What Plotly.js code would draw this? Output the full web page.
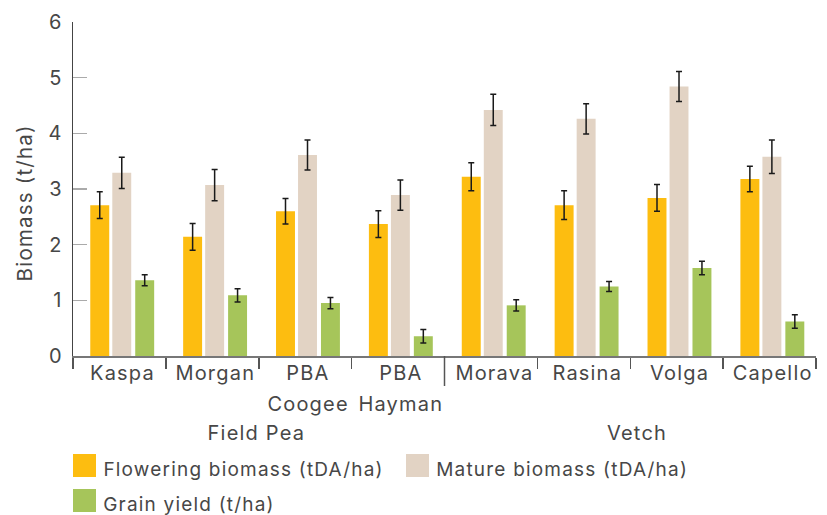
<!DOCTYPE html>
<html><head><meta charset="utf-8">
<script src="https://cdn.plot.ly/plotly-3.0.1.min.js"></script>
<style>html,body{margin:0;padding:0;background:#fff}#chart{width:827px;height:515px}
#chart .annotation-text{letter-spacing:1.2px}</style>
</head><body><div id="chart"></div>
<script>
// ---- data ----
const categories = ["Kaspa", "Morgan", "PBA Coogee", "PBA Hayman", "Morava", "Rasina", "Volga", "Capello"];
const labelLine1 = ["Kaspa", "Morgan", "PBA", "PBA", "Morava", "Rasina", "Volga", "Capello"];
const labelLine2 = ["", "", "Coogee", "Hayman", "", "", "", ""];
const groupNames = ["Field Pea", "Vetch"];
const groupMembers = [["Kaspa", "Morgan", "PBA Coogee", "PBA Hayman"], ["Morava", "Rasina", "Volga", "Capello"]];
const seriesNames = ["Flowering biomass (tDA/ha)", "Mature biomass (tDA/ha)", "Grain yield (t/ha)"];
const flowering = [2.71, 2.14, 2.60, 2.37, 3.22, 2.71, 2.84, 3.18];
const floweringErr = [0.24, 0.24, 0.23, 0.24, 0.25, 0.26, 0.24, 0.23];
const mature = [3.29, 3.07, 3.61, 2.89, 4.42, 4.26, 4.84, 3.58];
const matureErr = [0.28, 0.28, 0.27, 0.27, 0.28, 0.27, 0.27, 0.30];
const grain = [1.36, 1.09, 0.95, 0.355, 0.91, 1.25, 1.58, 0.62];
const grainErr = [0.10, 0.12, 0.10, 0.12, 0.10, 0.09, 0.12, 0.12];
const yTickVals = [0, 1, 2, 3, 4, 5, 6];

// ---- styling ----
const W = 827, H = 515, M = {l: 73, r: 11, t: 22, b: 159};
const pw = W - M.l - M.r, ph = H - M.t - M.b;
const pxX = px => (px - M.l) / pw;
const pxY = py => (H - M.b - py) / ph;
const FONT = 'Inter, sans-serif';
const TXT = '#474747';
const SPACING = 1.2;
const colors = ['#FDBD10', '#E2D3C4', '#A6C55A'];
const offsets = [-0.314, -0.077, 0.170];
const barW = 0.204;

function barTrace(i, y, err) {
  return {
    type: 'bar', name: seriesNames[i], x: categories, y: y,
    width: barW, offset: offsets[i],
    marker: {color: colors[i], line: {width: 0}},
    error_y: {type: 'data', array: err, visible: true, color: '#1a1a1a', thickness: 1.5, width: 3},
    showlegend: false, hoverinfo: 'skip'
  };
}
const data = [barTrace(0, flowering, floweringErr), barTrace(1, mature, matureErr), barTrace(2, grain, grainErr)];

const annotations = [];
const shapes = [];
categories.forEach((c, i) => {
  annotations.push({xref: 'x', yref: 'paper', x: c, xshift: 3.3, y: pxY(373), yanchor: 'middle', xanchor: 'center',
    text: labelLine1[i], showarrow: false, font: {family: FONT, size: 20, color: TXT}});
  if (labelLine2[i]) annotations.push({xref: 'x', yref: 'paper', x: c, xshift: 3.3, y: pxY(404), yanchor: 'middle', xanchor: 'center',
    text: labelLine2[i], showarrow: false, font: {family: FONT, size: 20, color: TXT}});
});
groupNames.forEach((g, gi) => {
  const mem = groupMembers[gi];
  const mid = (categories.indexOf(mem[0]) + categories.indexOf(mem[mem.length - 1])) / 2;
  annotations.push({xref: 'x', yref: 'paper', x: mid, xshift: gi === 0 ? -2 : 6.5, y: pxY(433), yanchor: 'middle', xanchor: 'center',
    text: g, showarrow: false, font: {family: FONT, size: 20, color: TXT}});
});
// group separator
shapes.push({type: 'line', xref: 'x', yref: 'paper', x0: 3.5, x1: 3.5, y0: 0, y1: pxY(386), line: {color: '#555', width: 1.5}});
// y title
annotations.push({xref: 'paper', yref: 'paper', x: pxX(24), y: pxY(203), textangle: -90, xanchor: 'center', yanchor: 'middle',
  text: 'Biomass (t/ha)', showarrow: false, font: {family: FONT, size: 20.5, color: TXT}});
// legend (manual)
const legPos = [[73, 465.5], [406, 465.5], [73, 500.5]];
seriesNames.forEach((n, i) => {
  const [lx, ly] = legPos[i];
  shapes.push({type: 'rect', xref: 'paper', yref: 'paper', x0: pxX(lx), x1: pxX(lx + 23), y0: pxY(ly - 11.5), y1: pxY(ly + 11.5),
    fillcolor: colors[i], line: {width: 0}});
  annotations.push({xref: 'paper', yref: 'paper', x: pxX(lx + 28), xshift: n.length * SPACING / 2, y: pxY(ly + 4), xanchor: 'left', yanchor: 'middle',
    text: n, showarrow: false, font: {family: FONT, size: 19, color: TXT}});
});

const layout = {
  width: W, height: H, margin: M, paper_bgcolor: '#fff', plot_bgcolor: '#fff',
  barmode: 'overlay', showlegend: false,
  font: {family: FONT, size: 20, color: TXT},
  xaxis: {type: 'category', range: [-0.5, 7.5], showticklabels: false, tickson: 'boundaries',
    ticks: 'outside', ticklen: 11, tickwidth: 1.5, tickcolor: '#555',
    showline: true, linecolor: '#777', linewidth: 2, showgrid: false, zeroline: false, fixedrange: true},
  yaxis: {range: [0, 6], tickvals: yTickVals, ticks: 'inside', ticklen: 14, tickwidth: 1.5, tickcolor: '#aaa',
    ticklabelstandoff: 6, tickfont: {family: FONT, size: 20, color: TXT},
    showline: true, linecolor: '#444', linewidth: 1.5, showgrid: false, zeroline: false, fixedrange: true},
  annotations: annotations, shapes: shapes
};
Plotly.newPlot('chart', data, layout, {staticPlot: true, displayModeBar: false});
</script></body></html>
